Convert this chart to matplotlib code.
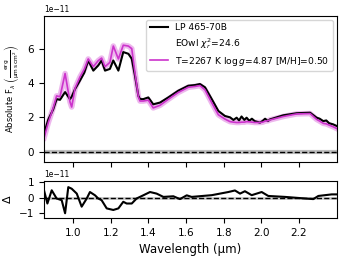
import numpy as np
import matplotlib
matplotlib.use("Agg")
import matplotlib.pyplot as plt

# spectrum of LP 465-70B and best-fit EOwl model (flux in 1e-11)
wave = [0.846, 0.869, 0.895, 0.913, 0.931, 0.958, 0.984, 0.993, 1.011, 1.037, 1.060,
        1.081, 1.108, 1.134, 1.152, 1.170, 1.196, 1.214, 1.241, 1.267, 1.294, 1.312,
        1.329, 1.347, 1.356, 1.373, 1.400, 1.426, 1.462, 1.506, 1.559, 1.612, 1.648,
        1.674, 1.701, 1.737, 1.772, 1.807, 1.834, 1.852, 1.869, 1.882, 1.895, 1.910,
        1.922, 1.936, 1.950, 1.965, 1.993, 2.008, 2.020, 2.035, 2.046, 2.117, 2.188,
        2.259, 2.294, 2.310, 2.329, 2.345, 2.360, 2.382, 2.400]
flux = [1.06, 1.88, 2.47, 3.06, 3.02, 3.47, 3.06, 3.20, 3.65, 4.14, 4.60,
        5.31, 4.72, 5.02, 5.31, 4.72, 4.82, 5.31, 4.72, 5.80, 5.70, 5.41,
        4.43, 3.25, 3.06, 3.06, 3.16, 2.76, 2.86, 3.16, 3.55, 3.84, 3.88,
        3.94, 3.75, 3.06, 2.37, 2.08, 2.00, 1.85, 1.98, 1.82, 2.05, 1.85,
        1.98, 1.80, 1.92, 1.78, 1.69, 1.80, 1.92, 1.78, 1.88, 2.12, 2.24,
        2.27, 1.98, 1.92, 1.78, 1.82, 1.66, 1.59, 1.50]
model = [0.80, 1.70, 2.55, 3.25, 3.20, 4.55, 2.90, 2.60, 3.70, 4.35, 4.80,
         5.40, 4.95, 5.30, 5.45, 4.95, 5.20, 6.15, 5.40, 6.20, 6.15, 6.00,
         4.60, 3.20, 2.95, 2.95, 3.00, 2.55, 2.70, 3.05, 3.45, 3.75, 3.80,
         3.85, 3.60, 2.85, 2.15, 1.90, 1.75, 1.72, 1.70, 1.70, 1.72, 1.72,
         1.75, 1.74, 1.72, 1.70, 1.70, 1.72, 1.78, 1.80, 1.85, 2.05, 2.20,
         2.22, 1.88, 1.78, 1.65, 1.62, 1.55, 1.45, 1.35]

# residuals (data - model), 1e-11
res_wave = [0.846, 0.864, 0.887, 0.913, 0.940, 0.958, 0.975, 0.993, 1.020, 1.046,
            1.073, 1.090, 1.117, 1.134, 1.152, 1.179, 1.214, 1.241, 1.267, 1.285,
            1.312, 1.338, 1.373, 1.409, 1.444, 1.480, 1.533, 1.568, 1.604, 1.630,
            1.737, 1.825, 1.860, 1.887, 1.913, 1.949, 2.002, 2.037, 2.126, 2.232,
            2.276, 2.303, 2.374, 2.400]
res = [0.46, -0.38, 0.46, -0.06, -0.17, -1.00, 0.66, 0.56, 0.25, -0.58,
       -0.06, 0.35, 0.14, -0.06, -0.17, -0.69, -0.79, -0.69, -0.27, -0.38,
       -0.38, -0.06, 0.14, 0.35, 0.25, 0.04, 0.08, -0.10, 0.14, 0.04,
       0.15, 0.35, 0.45, 0.25, 0.40, 0.15, 0.35, 0.10, 0.04, -0.06,
       -0.10, 0.10, 0.20, 0.20]

scale = 1e-11
w = np.array(wave)
f = np.array(flux) * scale
m = np.array(model) * scale
rw = np.array(res_wave)
r = np.array(res) * scale

fig = plt.figure(figsize=(3.45, 2.59), dpi=100)
ax1 = fig.add_axes([44/345, 1-162/259, 293/345, 146/259])
ax2 = fig.add_axes([44/345, 1-218/259, 293/345, 37/259], sharex=ax1)

mag = '#cc33cc'
ax1.plot(w, np.zeros_like(w), color='gray', lw=3, alpha=0.5)
ax1.axhline(0, color='k', ls='--', lw=1)
ax1.plot(w, m, color=mag, lw=4, alpha=0.35)
ax1.plot(w, f, color='k', lw=1.5, label='LP 465-70B')
ax1.plot([], [], ' ', label=r'EOwl $\chi^2_r$=24.6')
ax1.plot(w, m, color=mag, lw=1.2, label=r'T=2267 K log$\,g$=4.87 [M/H]=0.50')
ax1.set_xlim(0.846, 2.402)
ax1.set_ylim(-0.6e-11, 7.9e-11)
ax1.set_yticks([0, 2e-11, 4e-11, 6e-11])
ax1.tick_params(labelbottom=False, labelsize=7.5)
ax1.yaxis.get_offset_text().set_fontsize(5.5)
ax1.set_ylabel(r'Absolute F$_\lambda$ $\left(\frac{\rm erg}{\rm \mu m\,s\,cm^2}\right)$',
               fontsize=6)
ax1.legend(loc='upper right', fontsize=6.6, handlelength=2.0, framealpha=0.8,
           borderaxespad=0.4, labelspacing=0.4)

ax2.plot(rw, np.zeros_like(rw), color='gray', lw=2, alpha=0.4)
ax2.axhline(0, color='k', ls='--', lw=1)
ax2.plot(rw, r, color='k', lw=1.5)
ax2.set_ylim(-1.3e-11, 1.05e-11)
ax2.set_yticks([-1e-11, 0, 1e-11])
ax2.set_xticks([1.0, 1.2, 1.4, 1.6, 1.8, 2.0, 2.2])
ax2.tick_params(labelsize=7.5)
ax2.yaxis.get_offset_text().set_fontsize(5.5)
ax2.set_ylabel(r'$\Delta$', fontsize=8)
ax2.set_xlabel('Wavelength (µm)', fontsize=8.5)

fig.savefig('out.png', dpi=100)
